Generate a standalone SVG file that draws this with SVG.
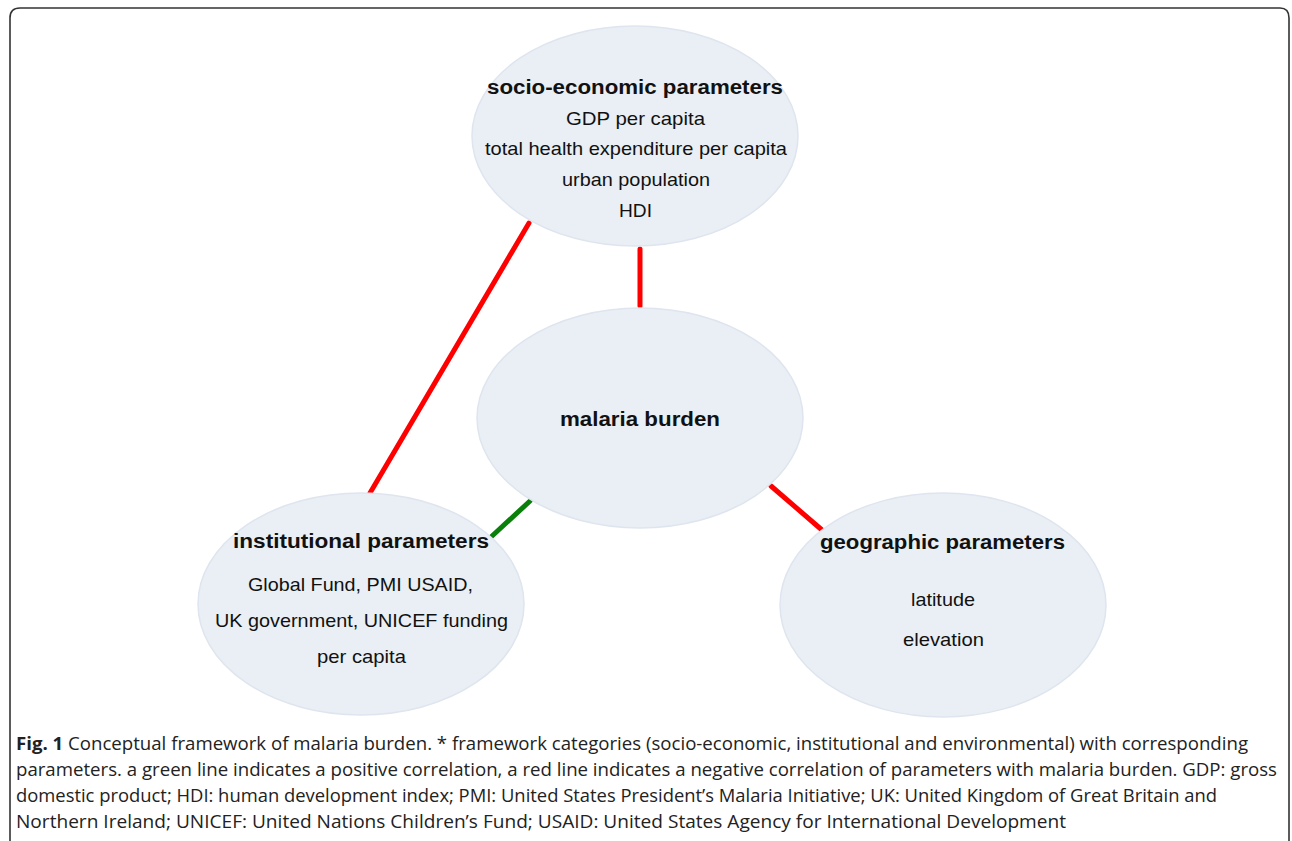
<svg xmlns="http://www.w3.org/2000/svg" width="1292" height="841" viewBox="0 0 1292 841">
<style>
.node{fill:#e9eff4;stroke:#dfe5ef;stroke-width:1.5}
.t{font-family:"Liberation Sans",Arial,sans-serif;font-size:19px;fill:#111;text-anchor:middle}
.b{font-weight:bold;font-size:20px}
.cap{font-family:"Open Sans","Liberation Sans",sans-serif;font-size:18px;fill:#222}
.neg{stroke:#ff0000;stroke-width:5;stroke-linecap:round}
.pos{stroke:#0a7f0a;stroke-width:5;stroke-linecap:round}
</style>
<rect x="0" y="0" width="1292" height="841" fill="#fff"/>
<path d="M10,850 V18 Q10,8 20,8 H1280 Q1289,8 1289,18 V850" fill="none" stroke="#333" stroke-width="1.6"/>
<g id="connectors">
<line class="neg" x1="529" y1="223" x2="370" y2="493"/>
<line class="neg" x1="640" y1="249" x2="640" y2="306"/>
<line class="pos" x1="530" y1="501" x2="491" y2="537"/>
<line class="neg" x1="771" y1="486" x2="822" y2="530"/>
</g>
<g id="socio">
<ellipse class="node" cx="635" cy="136" rx="163" ry="110"/>
<text class="t b" x="635" y="94" textLength="296" lengthAdjust="spacingAndGlyphs">socio-economic parameters</text>
<text class="t" x="635.5" y="125" textLength="139" lengthAdjust="spacingAndGlyphs">GDP per capita</text>
<text class="t" x="636" y="155" textLength="302" lengthAdjust="spacingAndGlyphs">total health expenditure per capita</text>
<text class="t" x="636" y="186" textLength="148" lengthAdjust="spacingAndGlyphs">urban population</text>
<text class="t" x="635.5" y="217" textLength="33" lengthAdjust="spacingAndGlyphs">HDI</text>
</g>
<g id="malaria">
<ellipse class="node" cx="640" cy="418" rx="163" ry="110"/>
<text class="t b" x="640" y="426" textLength="160" lengthAdjust="spacingAndGlyphs">malaria burden</text>
</g>
<g id="institutional">
<ellipse class="node" cx="361" cy="604" rx="163" ry="111"/>
<text class="t b" x="361" y="548" textLength="256" lengthAdjust="spacingAndGlyphs">institutional parameters</text>
<text class="t" x="360.5" y="591" textLength="225" lengthAdjust="spacingAndGlyphs">Global Fund, PMI USAID,</text>
<text class="t" x="361.5" y="627" textLength="293" lengthAdjust="spacingAndGlyphs">UK government, UNICEF funding</text>
<text class="t" x="361.5" y="663" textLength="89" lengthAdjust="spacingAndGlyphs">per capita</text>
</g>
<g id="geographic">
<ellipse class="node" cx="943" cy="605" rx="163" ry="112"/>
<text class="t b" x="942.5" y="549" textLength="245" lengthAdjust="spacingAndGlyphs">geographic parameters</text>
<text class="t" x="943" y="606" textLength="64" lengthAdjust="spacingAndGlyphs">latitude</text>
<text class="t" x="943.5" y="646" textLength="81" lengthAdjust="spacingAndGlyphs">elevation</text>
</g>
<g id="caption">
<text class="cap" x="16" y="750" textLength="1232" lengthAdjust="spacingAndGlyphs"><tspan font-weight="bold">Fig. 1</tspan> Conceptual framework of malaria burden. * framework categories (socio-economic, institutional and environmental) with corresponding</text>
<text class="cap" x="16" y="776" textLength="1261" lengthAdjust="spacingAndGlyphs">parameters. a green line indicates a positive correlation, a red line indicates a negative correlation of parameters with malaria burden. GDP: gross</text>
<text class="cap" x="16" y="802" textLength="1201" lengthAdjust="spacingAndGlyphs">domestic product; HDI: human development index; PMI: United States President’s Malaria Initiative; UK: United Kingdom of Great Britain and</text>
<text class="cap" x="16" y="828" textLength="1050" lengthAdjust="spacingAndGlyphs">Northern Ireland; UNICEF: United Nations Children’s Fund; USAID: United States Agency for International Development</text>
</g>
</svg>
